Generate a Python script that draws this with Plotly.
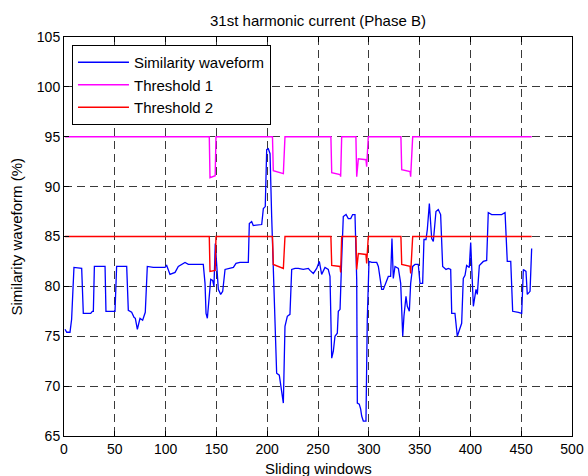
import plotly.graph_objects as go

# ---------------- data ----------------
sim_x = [
    1, 2.7, 5.9, 7.5, 9.8, 17.4, 19, 26.3, 27.9, 28.9,
    29.9, 40.4, 41.3, 50.2, 51.8, 61.7, 63.3, 66.6, 68.9, 70.2,
    72.2, 74.8, 77.4, 80, 82, 87.9, 94.5, 99.4, 101.1, 104.3,
    109.3, 112.5, 119.1, 122.4, 127.3, 137.1, 138.8, 139.8, 141.1, 143,
    144.4, 146.3, 147.6, 148.9, 150.9, 151.9, 154.2, 156.2, 158.5, 166.7,
    169.3, 173.2, 181.4, 182.4, 184.7, 186.3, 194.6, 196.2, 198.1, 199.5,
    201.1, 202.8, 204.4, 206, 207.7, 209.3, 211.9, 215.9, 217.5, 219.8,
    222.4, 224.1, 227.4, 230.6, 235.5, 240.5, 242.1, 245.4, 248.7, 251.3,
    253.6, 256.9, 260.1, 261.8, 263.5, 265.1, 266.7, 269, 270, 271.7,
    273.3, 274.9, 277.6, 279.8, 282.2, 284.1, 286.4, 288.1, 288.7, 290.6,
    292, 293, 294.6, 297.2, 298.5, 300.2, 302.9, 307.8, 309.4, 312.7,
    314.3, 316.9, 319.2, 321.5, 322.8, 324.1, 325.8, 329.1, 331.4, 333.4,
    334.6, 336.6, 337.9, 339.9, 341.2, 343.2, 345.5, 348.7, 350.4, 353,
    354.3, 356.3, 357.6, 359.6, 361.9, 363.5, 366.1, 368.4, 370.7, 372.7,
    376, 378.3, 380.6, 381.6, 384.8, 387.1, 389.1, 391.4, 393, 394.7,
    396.3, 398.9, 400.3, 401.6, 402.9, 405.5, 406.8, 408.8, 412.7, 416,
    417.6, 420.9, 430.8, 434.1, 436.3, 439.7, 441.6, 447.2, 450.5, 452.1,
    454.7, 456, 458.7, 460.3,
]
sim_y = [
    75.7, 75.4, 75.4, 76.7, 81.9, 81.8, 77.3, 77.3, 77.5, 77.5,
    82.0, 82.0, 77.5, 77.5, 82.0, 82.0, 77.6, 77.4, 76.9, 76.8,
    75.7, 76.8, 76.6, 77.4, 82.0, 81.9, 81.9, 81.9, 82.1, 81.2,
    81.4, 82.0, 82.4, 82.2, 82.2, 82.2, 80.3, 77.3, 76.8, 78.7,
    80.7, 80.6, 80.0, 84.3, 80.9, 79.7, 79.2, 79.5, 81.7, 81.9,
    82.3, 82.4, 82.4, 86.3, 86.5, 86.1, 86.2, 87.8, 88.0, 93.7,
    93.8, 93.3, 87.0, 81.7, 77.7, 71.3, 71.1, 68.3, 76.0, 77.0,
    77.2, 81.7, 81.8, 81.8, 81.7, 81.8, 81.6, 81.3, 81.8, 82.5,
    81.2, 81.9, 81.7, 81.0, 72.8, 73.5, 75.0, 75.3, 77.5, 77.7,
    82.7, 87.0, 87.2, 86.8, 86.8, 87.2, 87.2, 80.7, 68.3, 68.2,
    67.7, 67.0, 66.5, 66.5, 76.7, 82.5, 82.4, 82.4, 82.0, 79.7,
    79.7, 80.3, 81.0, 81.0, 84.8, 80.8, 82.0, 81.8, 80.3, 75.0,
    77.0, 79.0, 78.0, 77.5, 80.3, 82.0, 82.2, 82.2, 80.3, 80.3,
    84.7, 84.7, 85.7, 88.3, 84.8, 84.5, 87.5, 87.7, 87.2, 82.0,
    81.7, 81.8, 81.7, 77.3, 77.3, 75.0, 75.6, 76.3, 80.8, 81.1,
    82.1, 81.9, 84.4, 81.7, 78.0, 79.7, 79.2, 82.1, 82.5, 82.6,
    87.4, 87.2, 87.2, 87.4, 82.5, 82.5, 77.5, 77.4, 77.3, 81.7,
    81.5, 79.2, 79.5, 83.8,
]

thr_x = [1, 143, 143.7, 148.8, 149.6,
         205.2, 206, 215.9, 217.5,
         262.7, 263.5, 271.7, 272.3, 273.3,
         287.3, 288.1, 289.7, 297.2, 297.9, 299.5,
         331.6, 332.4, 340.6, 341.2, 343.2,
         460.3]
thr1_y = [95, 95, 90.9, 91.1, 95,
          95, 91.6, 91.3, 95,
          95, 91.4, 91.2, 91.0, 95,
          95, 91.0, 92.8, 92.7, 92.0, 95,
          95, 91.7, 91.5, 91.0, 95,
          95]
thr2_y = [85, 85, 81.5, 81.6, 85,
          85, 82.2, 81.8, 85,
          85, 82.1, 82.0, 81.4, 85,
          85, 81.7, 83.3, 83.2, 82.3, 85,
          85, 82.2, 82.0, 81.3, 85,
          85]

series_names = ["Similarity waveform", "Threshold 1", "Threshold 2"]
x_ticks = [0, 50, 100, 150, 200, 250, 300, 350, 400, 450, 500]
y_ticks = [65, 70, 75, 80, 85, 90, 95, 100, 105]
title_text = "31st harmonic current (Phase B)"
x_title = "Sliding windows"
y_title = "Similarity waveform (%)"

# ---------------- figure ----------------
FONT = "Liberation Sans, Arial, Helvetica, sans-serif"

fig = go.Figure()
fig.add_trace(go.Scatter(x=sim_x, y=sim_y, mode="lines", name=series_names[0],
                         line=dict(color="#0000FF", width=1.3)))
fig.add_trace(go.Scatter(x=thr_x, y=thr1_y, mode="lines", name=series_names[1],
                         line=dict(color="#FF00FF", width=1.4)))
fig.add_trace(go.Scatter(x=thr_x, y=thr2_y, mode="lines", name=series_names[2],
                         line=dict(color="#FF0000", width=1.4)))

axis_common = dict(
    showline=True, linecolor="black", linewidth=1, mirror="ticks",
    ticks="inside", ticklen=5, tickcolor="black", tickwidth=1,
    showgrid=True, gridcolor="#3a3a3a", gridwidth=0.8, griddash="8px,5px",
    zeroline=False, automargin=False,
    tickfont=dict(family=FONT, size=14, color="black"),
)

fig.update_xaxes(range=[0, 500], tickvals=x_ticks, **axis_common)
fig.update_yaxes(range=[65, 105], tickvals=y_ticks, **axis_common)

fig.update_layout(
    width=588, height=476,
    margin=dict(l=64, r=16, t=37, b=40),
    paper_bgcolor="white", plot_bgcolor="white",
    font=dict(family=FONT, size=14, color="black"),
    title=dict(text=title_text, x=0.5, xref="paper", xanchor="center",
               y=1 - 20.5 / 476, yref="container", yanchor="middle",
               font=dict(family=FONT, size=15, color="black")),
    showlegend=True,
    legend=dict(x=0.0157, y=0.98, xanchor="left", yanchor="top",
                bgcolor="white", bordercolor="black", borderwidth=1,
                font=dict(family=FONT, size=15, color="black"),
                itemwidth=51, tracegroupgap=0),
    annotations=[
        dict(text=x_title, xref="paper", yref="paper", x=0.5, y=0,
             xanchor="center", yanchor="middle", yshift=-32, showarrow=False,
             font=dict(family=FONT, size=15, color="black")),
        dict(text=y_title, xref="paper", yref="paper", x=0, y=0.5,
             xanchor="center", yanchor="middle", xshift=-48, textangle=-90,
             showarrow=False, font=dict(family=FONT, size=15, color="black")),
    ],
)

fig.write_html("out.html")
